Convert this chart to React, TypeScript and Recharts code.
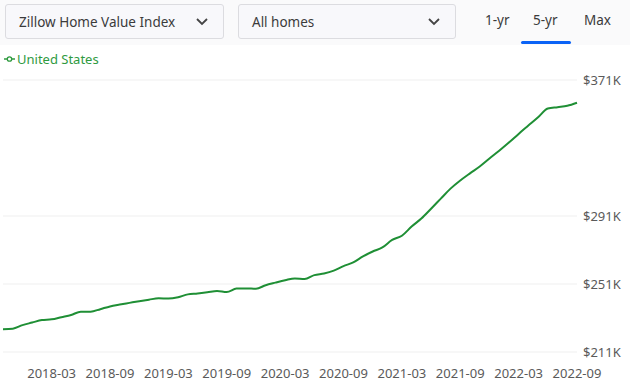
import React from "react";
import { LineChart, Line, XAxis, YAxis, CartesianGrid } from "recharts";

const months: string[] = [
  "2017-10","2017-11","2017-12","2018-01","2018-02","2018-03","2018-04","2018-05","2018-06","2018-07","2018-08","2018-09",
  "2018-10","2018-11","2018-12","2019-01","2019-02","2019-03","2019-04","2019-05","2019-06","2019-07","2019-08","2019-09",
  "2019-10","2019-11","2019-12","2020-01","2020-02","2020-03","2020-04","2020-05","2020-06","2020-07","2020-08","2020-09",
  "2020-10","2020-11","2020-12","2021-01","2021-02","2021-03","2021-04","2021-05","2021-06","2021-07","2021-08","2021-09",
  "2021-10","2021-11","2021-12","2022-01","2022-02","2022-03","2022-04","2022-05","2022-06","2022-07","2022-08","2022-09",
];

// Zillow Home Value Index, United States, in $K
const usValues: number[] = [
  224.4, 224.7, 226.8, 228.3, 229.8, 230.2, 231.5, 232.8, 234.7, 234.7, 236.2, 237.8,
  238.9, 239.9, 240.9, 241.8, 242.6, 242.4, 243.2, 244.9, 245.4, 246.1, 246.9, 246.3,
  248.3, 248.4, 248.2, 250.3, 251.8, 253.2, 254.3, 253.9, 256.2, 257.2, 258.9, 261.5,
  263.7, 267.2, 270.1, 272.5, 276.9, 279.4, 284.8, 289.5, 295.3, 301.2, 307.1, 311.9,
  316.1, 320.1, 324.8, 329.4, 334.2, 339.3, 344.2, 349.1, 354.2, 355.0, 355.8, 357.6,
];

const xTickLabels: string[] = [
  "2018-03","2018-09","2019-03","2019-09","2020-03","2020-09","2021-03","2021-09","2022-03","2022-09",
];
const yTicks: number[] = [211, 251, 291, 371];

const data = months.map((m, i) => ({ idx: i, month: m, value: usValues[i] }));
const xTicks = xTickLabels.map((l) => months.indexOf(l));

const FONT = "'Noto Sans', 'Open Sans', sans-serif";

const Chevron = () => (
  <svg width="14" height="10" viewBox="0 0 14 10">
    <polyline points="2,2 7,7 12,2" fill="none" stroke="#444" strokeWidth="1.8" />
  </svg>
);

const Dropdown = ({ left, width, label }: { left: number; width: number; label: string }) => (
  <div
    style={{
      position: "absolute",
      left,
      top: 4,
      width,
      height: 35,
      boxSizing: "border-box",
      border: "1px solid #dcdce0",
      borderRadius: 3,
      background: "#f8f8fb",
      display: "flex",
      alignItems: "center",
      justifyContent: "space-between",
      padding: "0 14px 0 13px",
      fontSize: 13.5,
      color: "#3b3b3b",
    }}
  >
    <span>{label}</span>
    <Chevron />
  </div>
);

export default function App() {
  return (
    <div
      style={{
        position: "absolute",
        left: 0,
        top: 0,
        width: 630,
        height: 383,
        background: "#fff",
        fontFamily: FONT,
        overflow: "hidden",
      }}
    >
      <div style={{ position: "absolute", left: 0, top: 0, width: 630, height: 45, background: "#fafafb" }} />
      <Dropdown left={5} width={219} label="Zillow Home Value Index" />
      <Dropdown left={238} width={218} label="All homes" />
      <div style={{ position: "absolute", left: 485, top: 11, fontSize: 13.5, color: "#3b3b3b" }}>1-yr</div>
      <div style={{ position: "absolute", left: 533, top: 11, fontSize: 13.5, color: "#3b3b3b" }}>5-yr</div>
      <div style={{ position: "absolute", left: 584, top: 11, fontSize: 13.5, color: "#3b3b3b" }}>Max</div>
      <div
        style={{
          position: "absolute",
          left: 521,
          top: 41,
          width: 50,
          height: 3,
          borderRadius: 2,
          background: "#0b63f6",
        }}
      />
      <div
        style={{
          position: "absolute",
          left: 4,
          top: 50,
          display: "flex",
          alignItems: "center",
          fontSize: 13,
          color: "#2f9a3f",
        }}
      >
        <svg width="11" height="8" viewBox="0 0 11 8" style={{ marginRight: 2 }}>
          <line x1="0" y1="4" x2="11" y2="4" stroke="#2f9a3f" strokeWidth="1.5" />
          <circle cx="5.5" cy="4" r="2.2" fill="#fff" stroke="#2f9a3f" strokeWidth="1.3" />
        </svg>
        <span>United States</span>
      </div>
      <div style={{ position: "absolute", left: 0, top: 0 }}>
        <LineChart
          width={630}
          height={383}
          data={data}
          margin={{ top: 80, right: 6, bottom: 1, left: 3 }}
        >
          <CartesianGrid horizontal vertical={false} stroke="#efefef" strokeWidth={1} />
          <XAxis
            dataKey="idx"
            type="number"
            domain={[0, months.length - 1]}
            ticks={xTicks}
            tickFormatter={(v: number) => months[v]}
            axisLine={false}
            tickLine={false}
            height={30}
            tickMargin={11}
            interval={0}
            tick={{ fontSize: 13, fill: "#5a5a5a", fontFamily: FONT }}
          />
          <YAxis
            orientation="right"
            domain={[211, 371]}
            ticks={yTicks}
            tickFormatter={(v: number) => `$${v}K`}
            axisLine={false}
            tickLine={false}
            width={47}
            tickMargin={0}
            interval={0}
            tick={{ fontSize: 13, fill: "#5a5a5a", fontFamily: FONT }}
          />
          <Line
            type="monotone"
            dataKey="value"
            stroke="#1f8f35"
            strokeWidth={2}
            dot={false}
            isAnimationActive={false}
          />
        </LineChart>
      </div>
    </div>
  );
}
